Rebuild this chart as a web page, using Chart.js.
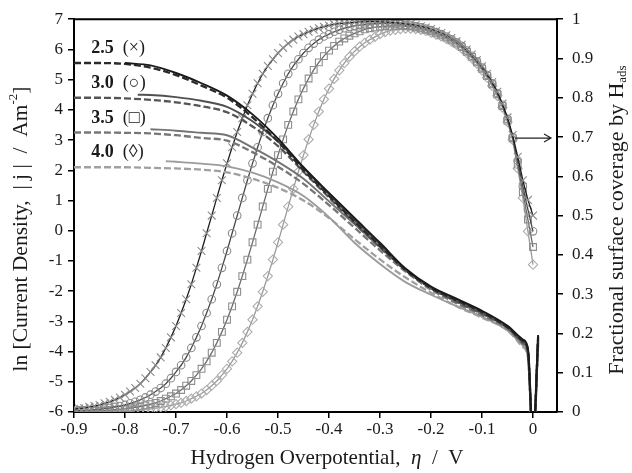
<!DOCTYPE html>
<html>
<head>
<meta charset="utf-8">
<script src="https://cdn.jsdelivr.net/npm/chart.js@4.4.1/dist/chart.umd.min.js"></script>
<style>
html, body { margin: 0; padding: 0; background: #fff; }
</style>
</head>
<body>
<canvas id="myChart" width="632" height="473"></canvas>
<script>
// overpotential grid of the coverage curves (one marker every 10 mV)
const etaGrid = [
  -0.90, -0.89, -0.88, -0.87, -0.86, -0.85, -0.84, -0.83, -0.82, -0.81,
  -0.80, -0.79, -0.78, -0.77, -0.76, -0.75, -0.74, -0.73, -0.72, -0.71,
  -0.70, -0.69, -0.68, -0.67, -0.66, -0.65, -0.64, -0.63, -0.62, -0.61,
  -0.60, -0.59, -0.58, -0.57, -0.56, -0.55, -0.54, -0.53, -0.52, -0.51,
  -0.50, -0.49, -0.48, -0.47, -0.46, -0.45, -0.44, -0.43, -0.42, -0.41,
  -0.40, -0.39, -0.38, -0.37, -0.36, -0.35, -0.34, -0.33, -0.32, -0.31,
  -0.30, -0.29, -0.28, -0.27, -0.26, -0.25, -0.24, -0.23, -0.22, -0.21,
  -0.20, -0.19, -0.18, -0.17, -0.16, -0.15, -0.14, -0.13, -0.12, -0.11,
  -0.10, -0.09, -0.08, -0.07, -0.06, -0.05, -0.04, -0.03, -0.02, -0.01,
  0.00
];

// fractional coverage by H_ads (right axis)
const cov25 = [
  0.007, 0.009, 0.010, 0.013, 0.015, 0.018, 0.022, 0.026, 0.031, 0.037,
  0.044, 0.052, 0.061, 0.072, 0.086, 0.102, 0.119, 0.139, 0.163, 0.190,
  0.219, 0.252, 0.287, 0.325, 0.367, 0.410, 0.455, 0.500, 0.545, 0.590,
  0.633, 0.674, 0.713, 0.748, 0.781, 0.810, 0.837, 0.861, 0.881, 0.898,
  0.914, 0.927, 0.938, 0.948, 0.956, 0.962, 0.968, 0.973, 0.977, 0.981,
  0.984, 0.987, 0.989, 0.990, 0.991, 0.992, 0.993, 0.993, 0.994, 0.994,
  0.993, 0.993, 0.992, 0.991, 0.990, 0.988, 0.987, 0.985, 0.982, 0.979,
  0.975, 0.970, 0.965, 0.959, 0.952, 0.944, 0.935, 0.923, 0.910, 0.896,
  0.880, 0.861, 0.840, 0.815, 0.785, 0.750, 0.705, 0.650, 0.590, 0.540,
  0.500
];
const cov30 = [
  0.003, 0.004, 0.004, 0.005, 0.006, 0.007, 0.009, 0.010, 0.013, 0.015,
  0.018, 0.022, 0.026, 0.031, 0.037, 0.044, 0.052, 0.061, 0.072, 0.086,
  0.102, 0.119, 0.139, 0.163, 0.190, 0.219, 0.252, 0.287, 0.325, 0.367,
  0.410, 0.455, 0.500, 0.545, 0.590, 0.633, 0.674, 0.713, 0.748, 0.781,
  0.810, 0.837, 0.861, 0.881, 0.898, 0.914, 0.927, 0.938, 0.948, 0.956,
  0.962, 0.968, 0.973, 0.977, 0.980, 0.983, 0.985, 0.987, 0.988, 0.989,
  0.989, 0.989, 0.989, 0.988, 0.987, 0.985, 0.984, 0.982, 0.979, 0.976,
  0.972, 0.967, 0.962, 0.956, 0.949, 0.941, 0.932, 0.920, 0.907, 0.893,
  0.877, 0.858, 0.837, 0.812, 0.782, 0.746, 0.700, 0.640, 0.575, 0.515,
  0.460
];
const cov35 = [
  0.001, 0.002, 0.002, 0.002, 0.003, 0.003, 0.004, 0.005, 0.006, 0.007,
  0.008, 0.010, 0.012, 0.014, 0.017, 0.020, 0.023, 0.028, 0.034, 0.040,
  0.047, 0.056, 0.067, 0.079, 0.094, 0.110, 0.129, 0.151, 0.176, 0.204,
  0.235, 0.269, 0.306, 0.346, 0.388, 0.432, 0.477, 0.523, 0.568, 0.612,
  0.654, 0.694, 0.731, 0.765, 0.796, 0.824, 0.849, 0.871, 0.890, 0.906,
  0.920, 0.932, 0.943, 0.951, 0.958, 0.964, 0.969, 0.974, 0.977, 0.979,
  0.981, 0.982, 0.983, 0.983, 0.983, 0.982, 0.981, 0.979, 0.976, 0.973,
  0.969, 0.964, 0.959, 0.953, 0.946, 0.938, 0.929, 0.917, 0.904, 0.890,
  0.874, 0.855, 0.834, 0.809, 0.779, 0.742, 0.697, 0.630, 0.560, 0.490,
  0.420
];
const cov40 = [
  0.001, 0.001, 0.001, 0.001, 0.001, 0.001, 0.002, 0.002, 0.002, 0.003,
  0.003, 0.004, 0.005, 0.006, 0.007, 0.008, 0.010, 0.012, 0.014, 0.017,
  0.020, 0.023, 0.028, 0.034, 0.040, 0.047, 0.056, 0.067, 0.079, 0.094,
  0.110, 0.129, 0.151, 0.176, 0.204, 0.235, 0.269, 0.306, 0.346, 0.388,
  0.432, 0.477, 0.523, 0.568, 0.612, 0.654, 0.694, 0.731, 0.765, 0.796,
  0.823, 0.848, 0.870, 0.888, 0.904, 0.918, 0.930, 0.940, 0.948, 0.955,
  0.962, 0.967, 0.971, 0.973, 0.975, 0.976, 0.976, 0.975, 0.973, 0.970,
  0.966, 0.961, 0.956, 0.950, 0.943, 0.935, 0.926, 0.914, 0.901, 0.887,
  0.870, 0.851, 0.830, 0.805, 0.775, 0.738, 0.693, 0.620, 0.545, 0.460,
  0.375
];

// ln |j| curves (left axis): dashed set on a common grid
const etaDashed = [-0.9, -0.85, -0.8, -0.75, -0.7, -0.65, -0.6, -0.55, -0.5, -0.45, -0.4,
  -0.35, -0.3, -0.25, -0.2, -0.15, -0.1, -0.05, -0.02, -0.01, 0, 0.01];
const lnjDash25 = [5.55, 5.55, 5.52, 5.40, 5.15, 4.80, 4.40, 3.75, 2.95, 2.00, 1.15,
  0.30, -0.50, -1.30, -1.90, -2.30, -2.70, -3.20, -3.65, -3.95, -7, -3.50];
const lnjDash30 = [4.40, 4.40, 4.38, 4.33, 4.25, 4.12, 3.92, 3.45, 2.80, 1.95, 1.10,
  0.25, -0.55, -1.30, -1.90, -2.35, -2.75, -3.20, -3.70, -4.00, -7, -3.60];
const lnjDash35 = [3.25, 3.25, 3.24, 3.22, 3.16, 3.07, 2.98, 2.60, 2.12, 1.55, 0.85,
  0.10, -0.65, -1.35, -1.95, -2.40, -2.80, -3.25, -3.75, -4.10, -7, -3.70];
const lnjDash40 = [2.10, 2.10, 2.10, 2.08, 2.06, 2.02, 1.93, 1.72, 1.42, 1.00, 0.42,
  -0.28, -0.95, -1.55, -2.05, -2.50, -2.88, -3.30, -3.85, -4.20, -7, -3.80];

// solid set, each starting a little later
const etaSolid25 = [-0.8, -0.75, -0.7, -0.65, -0.6, -0.55, -0.5, -0.45, -0.4, -0.35,
  -0.3, -0.25, -0.2, -0.15, -0.1, -0.05, -0.02, -0.01, 0, 0.01];
const lnjSolid25 = [5.55, 5.47, 5.22, 4.88, 4.47, 3.85, 3.05, 2.10, 1.25, 0.42,
  -0.40, -1.25, -1.85, -2.25, -2.65, -3.15, -3.60, -3.90, -7, -3.45];
const etaSolid30 = [-0.775, -0.75, -0.7, -0.65, -0.6, -0.55, -0.5, -0.45, -0.4, -0.35,
  -0.3, -0.25, -0.2, -0.15, -0.1, -0.05, -0.02, -0.01, 0, 0.01];
const lnjSolid30 = [4.50, 4.49, 4.42, 4.30, 4.10, 3.62, 2.95, 2.08, 1.20, 0.35,
  -0.45, -1.28, -1.87, -2.30, -2.68, -3.18, -3.65, -3.95, -7, -3.55];
const etaSolid35 = [-0.75, -0.7, -0.65, -0.6, -0.55, -0.5, -0.45, -0.4, -0.35,
  -0.3, -0.25, -0.2, -0.15, -0.1, -0.05, -0.02, -0.01, 0, 0.01];
const lnjSolid35 = [3.36, 3.31, 3.24, 3.16, 2.75, 2.28, 1.72, 0.97, 0.22,
  -0.55, -1.30, -1.90, -2.35, -2.75, -3.22, -3.72, -4.05, -7, -3.65];
const etaSolid40 = [-0.72, -0.7, -0.65, -0.6, -0.55, -0.5, -0.45, -0.4, -0.35,
  -0.3, -0.25, -0.2, -0.15, -0.1, -0.05, -0.02, -0.01, 0, 0.01];
const lnjSolid40 = [2.30, 2.28, 2.22, 2.13, 1.92, 1.60, 1.15, 0.45, -0.40,
  -1.10, -1.70, -2.12, -2.50, -2.85, -3.30, -3.80, -4.15, -7, -3.75];

const xTicks = [-0.9, -0.8, -0.7, -0.6, -0.5, -0.4, -0.3, -0.2, -0.1, 0];
const phLabels = ['2.5', '3.0', '3.5', '4.0'];
const phMarks = ['(\u00d7)', '(\u25cb)', '(\u25a1)', '(\u25ca)'];

const serif = '"Liberation Serif", "Times New Roman", serif';
const pairs = (xs, ys) => xs.map((x, i) => ({ x: x, y: ys[i] }));
const fmt = v => { const r = Math.round(v * 10) / 10; return r === 0 ? '0' : String(r); };

function currentLine(xs, ys, color, dashed) {
  return {
    data: pairs(xs, ys), yAxisID: 'y', borderColor: color,
    borderWidth: dashed ? 2.3 : 1.9, borderDash: dashed ? [7, 3] : [],
    pointRadius: 0, cubicInterpolationMode: 'monotone', fill: false
  };
}
function coverageLine(ys, color, style, markColor, radius) {
  return {
    data: pairs(etaGrid, ys), yAxisID: 'y2', borderColor: color, borderWidth: 1.3,
    pointStyle: style, pointRadius: radius, pointBorderColor: markColor,
    pointBackgroundColor: 'rgba(0,0,0,0)', pointBorderWidth: 1.1, tension: 0, fill: false
  };
}

function drawRich(ctx, parts, x, y, angle, align) {
  ctx.save();
  ctx.translate(x, y);
  ctx.rotate(angle);
  let total = 0;
  parts.forEach(p => {
    ctx.font = p.style + ' ' + p.size + 'px ' + serif;
    p.w = ctx.measureText(p.t).width;
    total += p.w;
  });
  let cx = align === 'left' ? 0 : -total / 2;
  ctx.textAlign = 'left';
  ctx.textBaseline = 'middle';
  ctx.fillStyle = '#1a1a1a';
  parts.forEach(p => {
    ctx.font = p.style + ' ' + p.size + 'px ' + serif;
    ctx.fillText(p.t, cx, p.dy || 0);
    cx += p.w;
  });
  ctx.restore();
}

const decorations = {
  id: 'decorations',
  afterDraw(chart) {
    const ctx = chart.ctx;
    const a = chart.chartArea;
    const sx = chart.scales.x, sy = chart.scales.y, s2 = chart.scales.y2;

    // top frame line
    ctx.save();
    ctx.strokeStyle = '#000';
    ctx.lineWidth = 2;
    ctx.beginPath();
    ctx.moveTo(a.left, a.top);
    ctx.lineTo(a.right, a.top);
    ctx.stroke();

    // arrow pointing at the right axis
    const ay = s2.getPixelForValue(0.7) + 1;
    const ax0 = sx.getPixelForValue(-0.035), ax1 = a.right - 6;
    ctx.lineWidth = 1.2;
    ctx.strokeStyle = '#222';
    ctx.beginPath();
    ctx.moveTo(ax0, ay);
    ctx.lineTo(ax1, ay);
    ctx.moveTo(ax1 - 7, ay - 4);
    ctx.lineTo(ax1, ay);
    ctx.lineTo(ax1 - 7, ay + 4);
    ctx.stroke();
    ctx.restore();

    // pH labels
    const labelY = [6.05, 4.88, 3.73, 2.6];
    phLabels.forEach((t, i) => {
      drawRich(ctx, [
        { t: t, size: 18, style: 'bold' },
        { t: '  ' + phMarks[i], size: 18, style: 'normal' }
      ], sx.getPixelForValue(-0.866), sy.getPixelForValue(labelY[i]), 0, 'left');
    });

    // axis titles
    drawRich(ctx, [
      { t: 'Hydrogen Overpotential,  ', size: 21, style: 'normal' },
      { t: '\u03b7', size: 21, style: 'italic' },
      { t: '  /  V', size: 21, style: 'normal' }
    ], 327, 458, 0);

    drawRich(ctx, [
      { t: 'ln [Current Density,  | j |  /  Am', size: 21.5, style: 'normal' },
      { t: '-2', size: 13, style: 'normal', dy: -7 },
      { t: ']', size: 21.5, style: 'normal' }
    ], 21, 229, -Math.PI / 2);

    drawRich(ctx, [
      { t: 'Fractional surface coverage by H', size: 22, style: 'normal' },
      { t: 'ads', size: 13, style: 'normal', dy: 6 }
    ], 617, 220, -Math.PI / 2);
  }
};

const tickFont = { family: serif, size: 17 };
const axisCommon = {
  border: { display: true, color: '#000', width: 2 },
  grid: { drawOnChartArea: false, drawTicks: true, tickLength: 6, color: '#000', lineWidth: 1.5 }
};

const ctx = document.getElementById('myChart').getContext('2d');
const myChart = new Chart(ctx, {
  type: 'line',
  data: {
    datasets: [
      currentLine(etaSolid25, lnjSolid25, '#1a1a1a', false),
      currentLine(etaDashed, lnjDash25, '#2a2a2a', true),
      currentLine(etaSolid30, lnjSolid30, '#505050', false),
      currentLine(etaDashed, lnjDash30, '#555555', true),
      currentLine(etaSolid35, lnjSolid35, '#747474', false),
      currentLine(etaDashed, lnjDash35, '#777777', true),
      currentLine(etaSolid40, lnjSolid40, '#9c9c9c', false),
      currentLine(etaDashed, lnjDash40, '#a0a0a0', true),
      coverageLine(cov25, '#1e1e1e', 'crossRot', '#8c8c8c', 5.5),
      coverageLine(cov30, '#484848', 'circle', '#8a8a8a', 3.8),
      coverageLine(cov35, '#6a6a6a', 'rect', '#8e8e8e', 4.8),
      coverageLine(cov40, '#9a9a9a', 'rectRot', '#adadad', 4.6)
    ]
  },
  options: {
    responsive: false,
    animation: false,
    layout: { padding: { top: 17, left: 0, right: 0, bottom: 0 } },
    plugins: { legend: { display: false }, tooltip: { enabled: false } },
    scales: {
      x: Object.assign({}, axisCommon, {
        type: 'linear', position: 'bottom', min: -0.9, max: 0.047,
        afterBuildTicks: s => { s.ticks = xTicks.map(v => ({ value: v })); },
        ticks: { font: tickFont, color: '#1a1a1a', padding: 1, autoSkip: false, maxRotation: 0, callback: fmt },
        afterFit: s => { s.height = 61; }
      }),
      y: Object.assign({}, axisCommon, {
        position: 'left', min: -6, max: 7,
        ticks: { stepSize: 1, font: tickFont, color: '#1a1a1a', padding: 5 },
        afterFit: s => { s.width = 74; }
      }),
      y2: Object.assign({}, axisCommon, {
        position: 'right', min: 0, max: 1,
        ticks: { stepSize: 0.1, font: tickFont, color: '#1a1a1a', padding: 9, callback: fmt },
        afterFit: s => { s.width = 75; }
      })
    }
  },
  plugins: [decorations]
});
</script>
</body>
</html>
